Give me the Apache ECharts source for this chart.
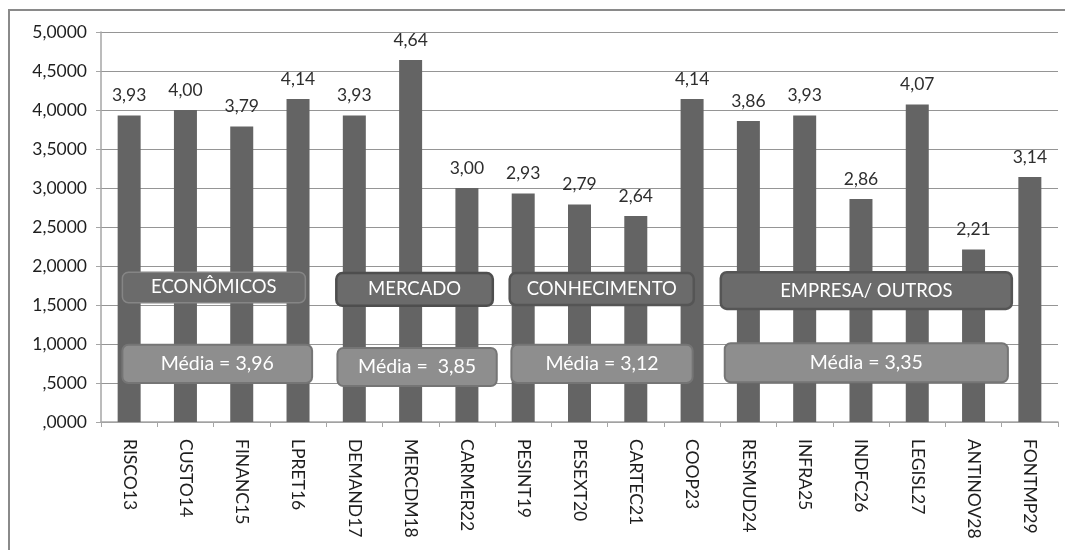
<!DOCTYPE html>
<html>
<head>
<meta charset="utf-8">
<script src="https://cdn.jsdelivr.net/npm/echarts@6/dist/echarts.min.js"></script>
<style>
  html, body { margin: 0; padding: 0; background: #fff; }
  #chart { width: 1065px; height: 550px; }
</style>
</head>
<body>
<div id="chart"></div>
<script>
// Indicators (categories) and their mean scores
const categories = ['RISCO13', 'CUSTO14', 'FINANC15', 'LPRET16', 'DEMAND17', 'MERCDM18', 'CARMER22',
  'PESINT19', 'PESEXT20', 'CARTEC21', 'COOP23', 'RESMUD24', 'INFRA25', 'INDFC26', 'LEGISL27',
  'ANTINOV28', 'FONTMP29'];
const scores = [3.93, 4.00, 3.79, 4.14, 3.93, 4.64, 3.00, 2.93, 2.79, 2.64, 4.14, 3.86, 3.93, 2.86,
  4.07, 2.21, 3.14];

// Factor groups and their averages
const groupNames = ['ECONÔMICOS', 'MERCADO', 'CONHECIMENTO', 'EMPRESA/ OUTROS'];
const groupMeans = [3.96, 3.85, 3.12, 3.35];
const meanLabels = ['Média = 3,96', 'Média =  3,85', 'Média = 3,12', 'Média = 3,35'];

// Y axis ticks
const yTicks = [0, 0.5, 1, 1.5, 2, 2.5, 3, 3.5, 4, 4.5, 5];

// Box placement: x in category units from the axis start, y in axis value units
const groupBoxes = [
  { x0: 0.38, x1: 3.63, y0: 1.92, y1: 1.53, stroke: '#858585', lw: 1.5 },
  { x0: 4.18, x1: 6.96, y0: 1.91, y1: 1.49, stroke: '#4e4e4e', lw: 2.5 },
  { x0: 7.26, x1: 10.53, y0: 1.91, y1: 1.50, stroke: '#555555', lw: 2.5 },
  { x0: 11.01, x1: 16.18, y0: 1.92, y1: 1.45, stroke: '#555555', lw: 2.5 }
];
const meanBoxes = [
  { x0: 0.38, x1: 3.75, y0: 0.99, y1: 0.50 },
  { x0: 4.20, x1: 7.03, y0: 0.95, y1: 0.46 },
  { x0: 7.29, x1: 10.51, y0: 0.99, y1: 0.50 },
  { x0: 11.08, x1: 16.11, y0: 1.01, y1: 0.51 }
];

const FONT = 'Lato, "Liberation Sans", sans-serif';
const fmtComma = (v, d) => v.toFixed(d).replace('.', ',');

const chart = echarts.init(document.getElementById('chart'), null, { renderer: 'canvas' });

chart.setOption({
  animation: false,
  backgroundColor: '#ffffff',
  grid: { left: 101, right: 7, top: 32, bottom: 128, containLabel: false },
  xAxis: {
    type: 'category',
    data: categories,
    boundaryGap: true,
    axisLine: { show: true, lineStyle: { color: '#a6a6a6', width: 1.5 } },
    axisTick: { show: true, length: 5, lineStyle: { color: '#a6a6a6' } },
    axisLabel: {
      rotate: -90,
      interval: 0,
      margin: 17,
      color: '#1e1e1e',
      fontFamily: FONT,
      fontSize: 17.5
    }
  },
  yAxis: {
    type: 'value',
    min: yTicks[0],
    max: yTicks[yTicks.length - 1],
    interval: yTicks[1] - yTicks[0],
    axisLine: { show: true, lineStyle: { color: '#a6a6a6', width: 1.5 } },
    axisTick: { show: true, length: 5, lineStyle: { color: '#a6a6a6' } },
    splitLine: { show: true, lineStyle: { color: '#959595', width: 1.2 } },
    axisLabel: {
      margin: 14,
      color: '#1e1e1e',
      fontFamily: FONT,
      fontSize: 17.5,
      formatter: v => {
        const s = fmtComma(v, 4);
        return s.startsWith('0,') ? s.slice(1) : s;
      }
    }
  },
  series: [{
    type: 'bar',
    data: scores,
    barWidth: 23,
    itemStyle: { color: '#646464' },
    label: {
      show: true,
      position: 'top',
      distance: 11,
      color: '#2e2e2e',
      fontFamily: FONT,
      fontSize: 17.5,
      formatter: p => fmtComma(p.value, 2)
    }
  }]
});

// Annotation boxes placed over the bars using the chart's own scales
const c0 = chart.convertToPixel({ xAxisIndex: 0 }, 0);
const c1 = chart.convertToPixel({ xAxisIndex: 0 }, 1);
const bandW = c1 - c0;
const axisStart = c0 - bandW / 2;
const px = u => axisStart + u * bandW;
const py = v => chart.convertToPixel({ yAxisIndex: 0 }, v);

function box(b, text, fill, stroke, lw, fontSize) {
  const x = px(b.x0), y = py(b.y0);
  return {
    type: 'rect',
    z: 100,
    shape: { x: x, y: y, width: px(b.x1) - x, height: py(b.y1) - y, r: 6 },
    style: { fill: fill, stroke: stroke, lineWidth: lw },
    textContent: {
      style: { text: text, fill: '#ffffff', font: fontSize + 'px ' + FONT },
      z: 101
    },
    textConfig: { position: 'inside' }
  };
}

const graphics = [{
  type: 'rect',
  z: 90,
  shape: { x: 9, y: 10, width: 1100, height: 600 },
  style: { fill: 'none', stroke: '#8a8a8a', lineWidth: 2 }
}];
groupBoxes.forEach((b, i) => graphics.push(box(b, groupNames[i], '#6b6b6b', b.stroke, b.lw, 18.5)));
meanBoxes.forEach((b, i) => graphics.push(box(b, meanLabels[i], '#8e8e8e', '#757575', 2, 19.5)));

chart.setOption({ graphic: graphics });
</script>
</body>
</html>
